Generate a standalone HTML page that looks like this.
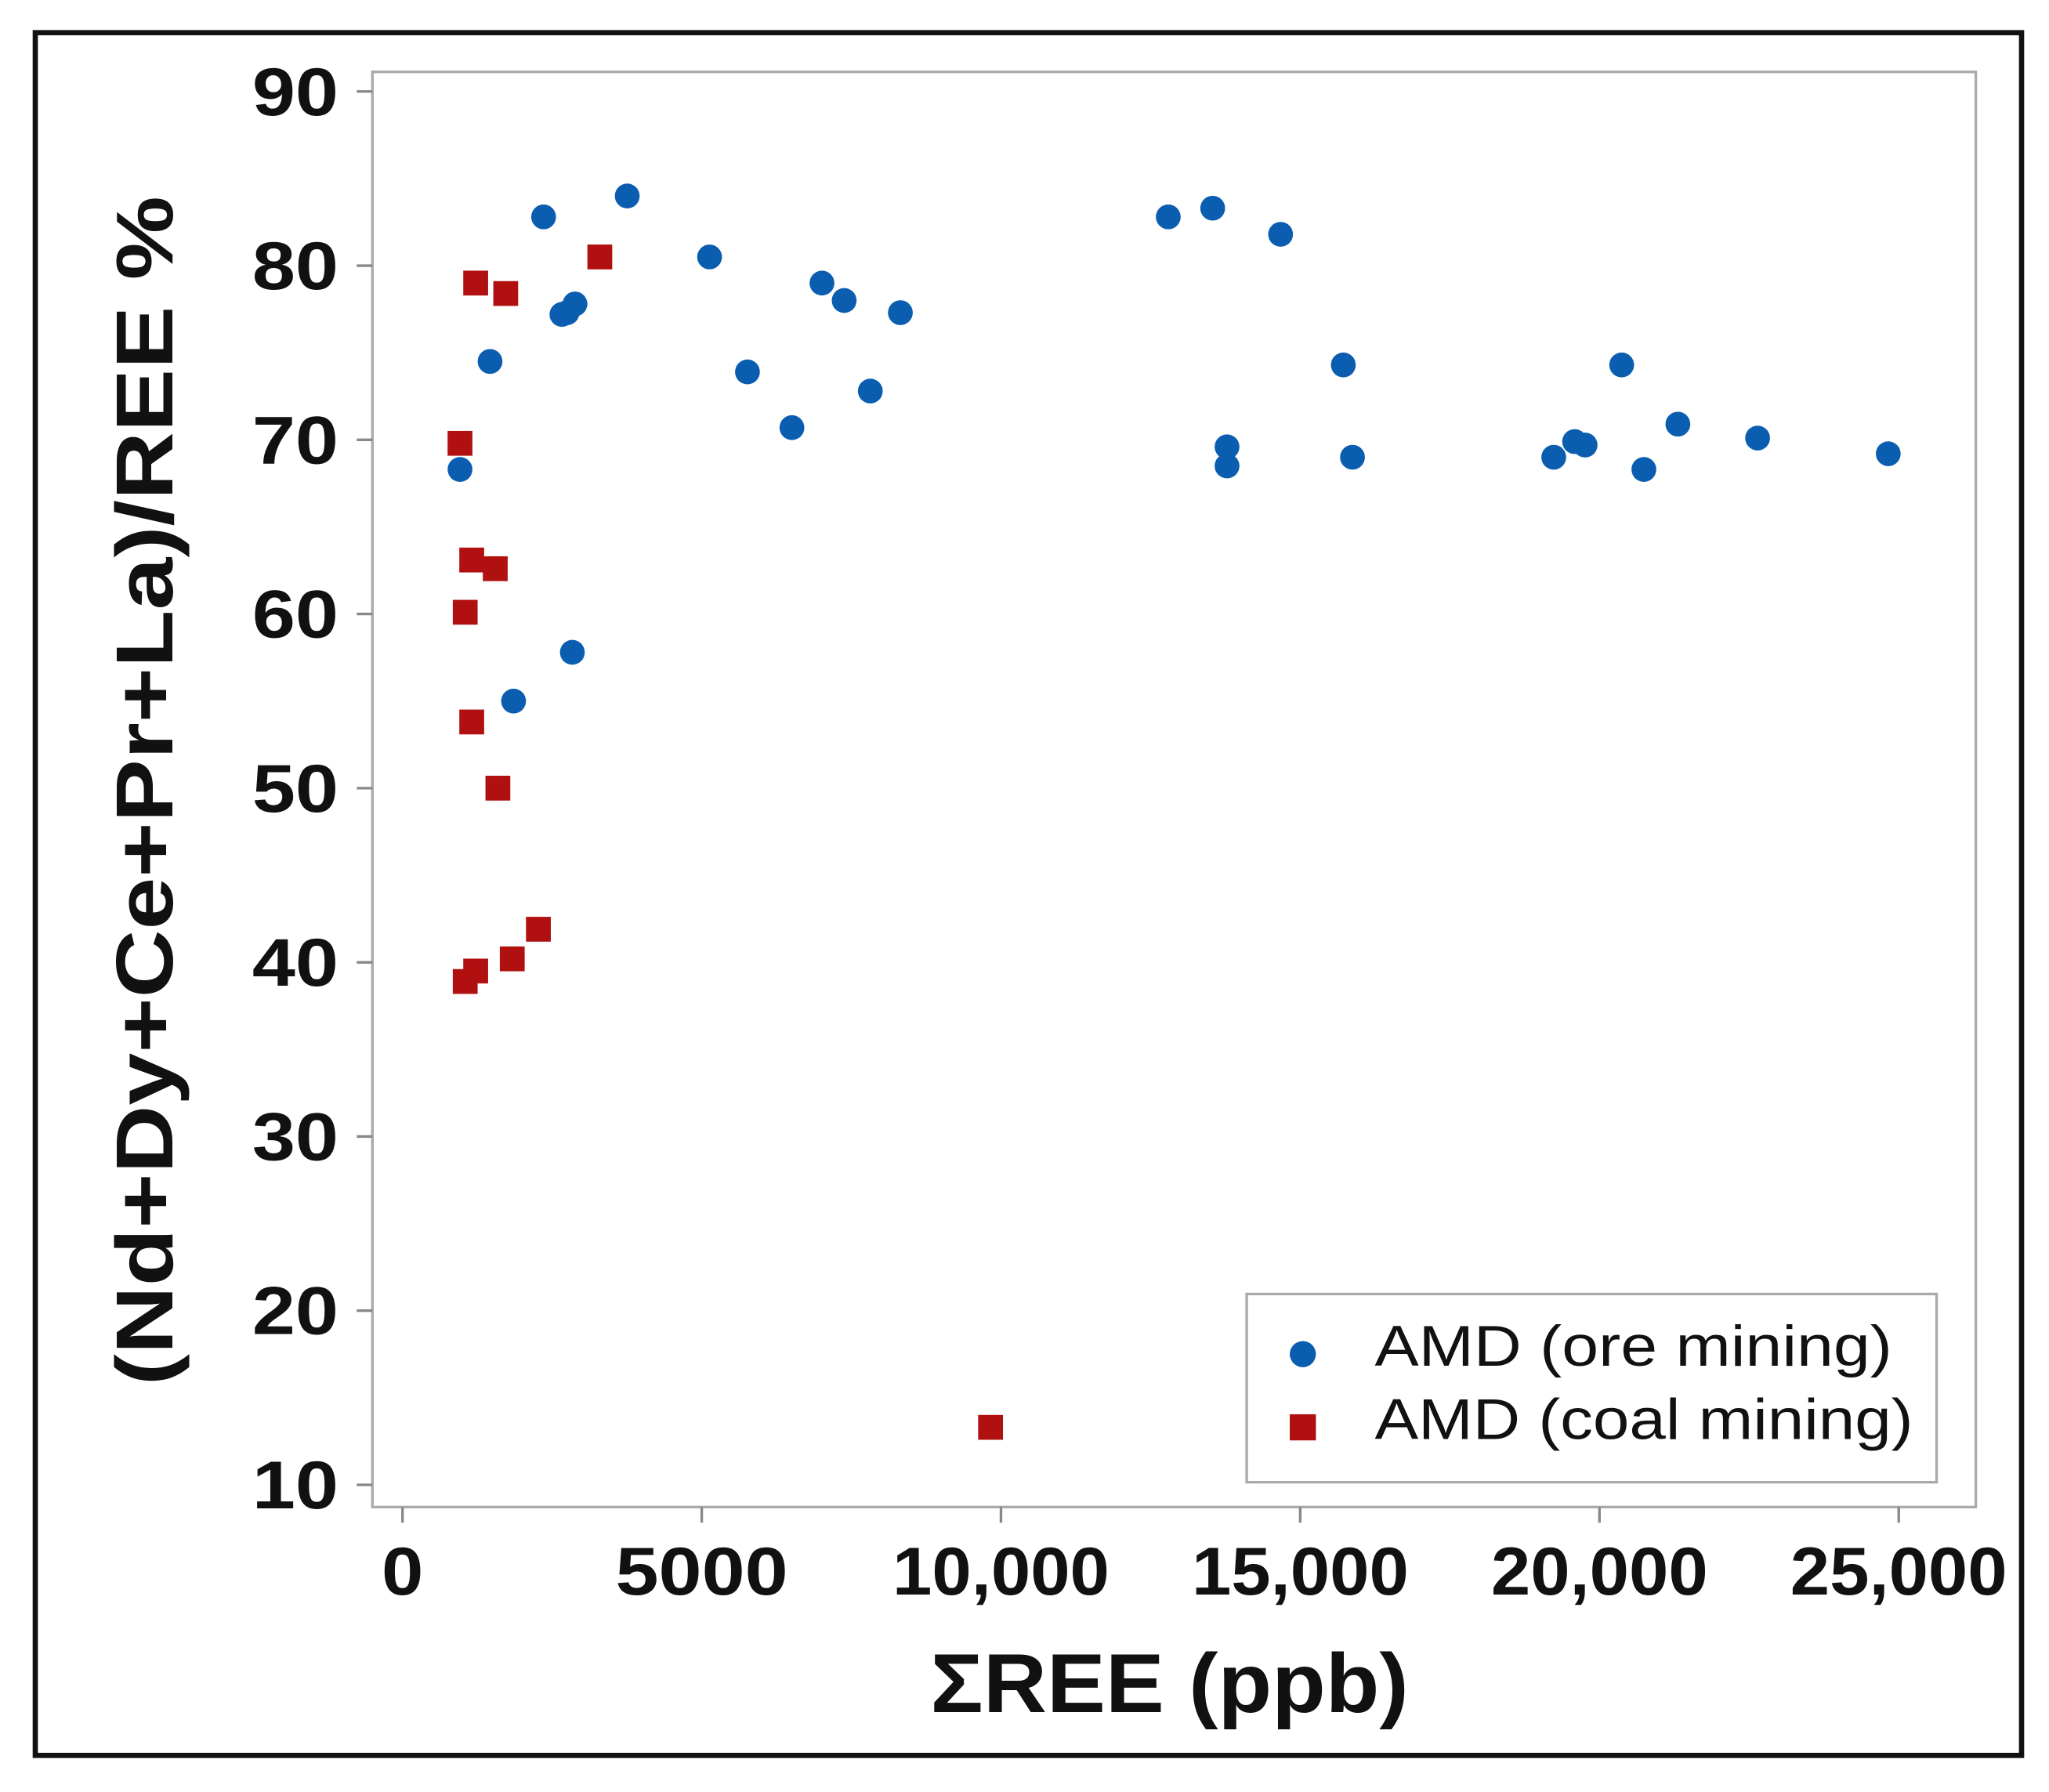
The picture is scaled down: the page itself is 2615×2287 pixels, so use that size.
<!DOCTYPE html>
<html><head><meta charset="utf-8"><style>
html,body{margin:0;padding:0;background:#fff}
svg{display:block}
text{font-family:"Liberation Sans",sans-serif;fill:#111}
</style></head><body>
<svg id="chart" width="2615" height="2287" viewBox="0 0 1568 1371" preserveAspectRatio="none" xmlns="http://www.w3.org/2000/svg">
<rect x="27" y="25" width="1520" height="1318" fill="#fff" stroke="#111" stroke-width="4"/>
<rect x="285" y="55" width="1227" height="1098" fill="#fff" stroke="#aaa" stroke-width="2"/>
<g id="axes"></g>
<g id="marks"></g>
<text transform="translate(132,605) rotate(-90)" text-anchor="middle" font-size="62" font-weight="bold" textLength="910" lengthAdjust="spacingAndGlyphs">(Nd+Dy+Ce+Pr+La)/REE %</text>
<text x="895" y="1310" text-anchor="middle" font-size="64" font-weight="bold" textLength="366" lengthAdjust="spacingAndGlyphs">ΣREE (ppb)</text>
<g>
<rect x="954" y="990" width="528" height="144" fill="#fff" stroke="#aaa" stroke-width="2"/>
<circle cx="997" cy="1036" r="10" fill="#0b5db0"/>
<text x="1052" y="1045" font-size="44" textLength="396" lengthAdjust="spacingAndGlyphs">AMD (ore mining)</text>
<rect x="987" y="1082" width="20" height="20" fill="#b0100f"/>
<text x="1052" y="1101" font-size="44" textLength="412" lengthAdjust="spacingAndGlyphs">AMD (coal mining)</text>
</g>
</svg>
<script>
const xTicks=[0,5000,10000,15000,20000,25000];
const xTickLabels=["0","5000","10,000","15,000","20,000","25,000"];
const yTicks=[10,20,30,40,50,60,70,80,90];
const oreX=[961,1463,1856,2358,2664,2750,2882,2838,3755,5131,5764,6507,7009,7380,7817,8319,12795,13537,13777,13777,14672,15720,15873,19236,19585,19760,20371,20742,21310,22642,24825];
const oreY=[68.3,74.5,55,82.8,77.2,77.3,77.8,57.8,84,80.5,73.9,70.7,79,78,72.8,77.3,82.8,83.3,69.6,68.5,81.8,74.3,69,69,69.9,69.7,74.3,68.3,70.9,70.1,69.2];
const coalX=[961,1223,1725,3297,1157,1550,1048,1157,1594,2271,1834,1223,1048,9826];
const coalY=[69.8,79.0,78.4,80.5,63.1,62.6,60.1,53.8,50,41.9,40.2,39.5,38.9,13.3];
const NS="http://www.w3.org/2000/svg";
const xs=v=>308+v/5000*229;
const ys=v=>70+(90-v)*13.325;
const axes=document.getElementById('axes'),marks=document.getElementById('marks');
function mk(t,a,p){const e=document.createElementNS(NS,t);for(const k in a)e.setAttribute(k,a[k]);p.appendChild(e);return e;}
yTicks.forEach(v=>{
 const l=mk('line',{x1:273,x2:285,y1:ys(v),y2:ys(v),stroke:'#888','stroke-width':2},axes);
 
 
 const t=mk('text',{x:259,y:ys(v)+18,'text-anchor':'end','font-size':52,'font-weight':'bold',textLength:66,lengthAdjust:'spacingAndGlyphs'},axes);
 t.textContent=v;
 
 
});
xTicks.forEach((v,i)=>{
 const l=mk('line',{x1:xs(v),x2:xs(v),y1:1153,y2:1165,stroke:'#888','stroke-width':2},axes);
 
 
 const len=xTickLabels[i].length;
 const t=mk('text',{x:xs(v),y:1220,'text-anchor':'middle','font-size':52,'font-weight':'bold',textLength:len===1?32:(len===4?132:166),lengthAdjust:'spacingAndGlyphs'},axes);
 t.textContent=xTickLabels[i];
 
 
});
oreX.forEach((x,i)=>{
 const c=mk('circle',{cx:xs(x),cy:ys(oreY[i]),r:9.5,fill:'#0b5db0'},marks);
 
 
});
coalX.forEach((x,i)=>{
 const r=mk('rect',{x:xs(x)-9.5,y:ys(coalY[i])-9.5,width:19,height:19,fill:'#b0100f'},marks);
 
 
});
</script>
</body></html>
